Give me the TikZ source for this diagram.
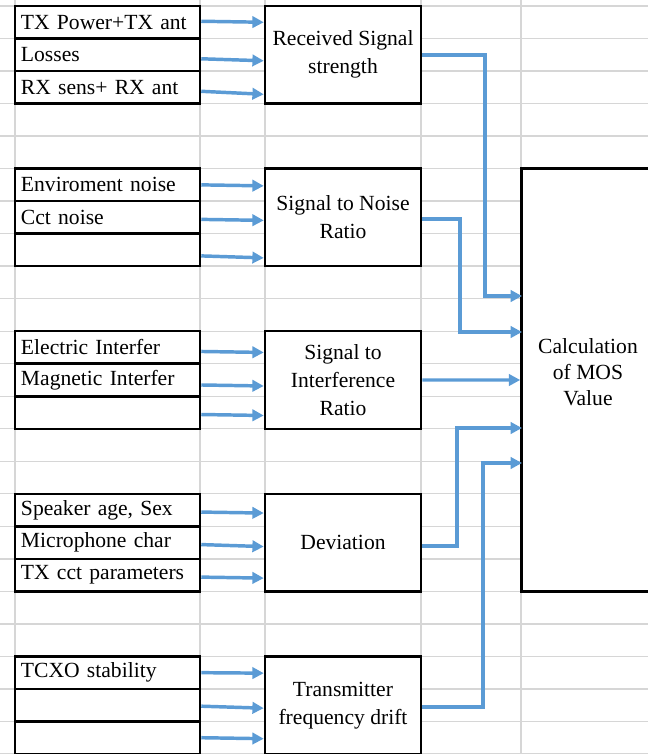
\documentclass[tikz,border=0pt]{standalone}
\usepackage{fontspec}
\setmainfont{Liberation Serif}
\usetikzlibrary{arrows.meta,calc}
\definecolor{gridc}{RGB}{214,214,214}
\definecolor{arrc}{RGB}{91,155,213}
\begin{document}
\begin{tikzpicture}[x=0.75pt,y=-0.75pt,
  font=\fontsize{16.2}{21}\selectfont,
  cell/.style={draw, fill=white, line width=1.9pt, minimum width=138.75pt,
    minimum height=24.39pt, inner xsep=4.5pt, inner ysep=0pt,
    text width=129.75pt, align=left},
  blk/.style={draw, fill=white, line width=1.9pt, minimum width=117pt,
    minimum height=73.17pt, align=center, inner sep=0pt},
  arr/.style={draw=arrc, line width=2.6pt, -{Triangle[length=8.5pt,width=8.5pt]}},
  gridline/.style={draw=gridc, line width=1pt}]
\useasboundingbox (0,0) rectangle (648,754);
\clip (0,0) rectangle (648,754);
% spreadsheet grid
\foreach \k in {0,...,23} \draw[gridline] (0,{6+32.52*\k}) -- (648,{6+32.52*\k});
\foreach \x in {15,200,265,421,521} \draw[gridline] (\x,0) -- (\x,754);

% input cells
\node[cell] (a1) at (107.5,22.26) {TX Power+TX ant};
\node[cell] (a2) at (107.5,54.78) {Losses};
\node[cell] (a3) at (107.5,87.30) {RX sens+ RX ant};
\node[cell] (b1) at (107.5,184.86) {Enviroment noise};
\node[cell] (b2) at (107.5,217.38) {Cct noise};
\node[cell] (b3) at (107.5,249.90) {};
\node[cell] (c1) at (107.5,347.46) {Electric Interfer};
\node[cell] (c2) at (107.5,379.98) {Magnetic Interfer};
\node[cell] (c3) at (107.5,412.50) {};
\node[cell] (d1) at (107.5,510.06) {Speaker age, Sex};
\node[cell] (d2) at (107.5,542.58) {Microphone char};
\node[cell] (d3) at (107.5,575.10) {TX cct parameters};
\node[cell] (e1) at (107.5,672.66) {TCXO stability};
\node[cell] (e2) at (107.5,705.18) {};
\node[cell] (e3) at (107.5,737.70) {};

% intermediate blocks
\node[blk] (rs)  at (343,54.78)  {Received Signal\\strength};
\node[blk] (snr) at (343,217.38) {Signal to Noise\\Ratio};
\node[blk] (sir) at (343,379.98) {Signal to\\Interference\\Ratio};
\node[blk] (dev) at (343,542.58) {Deviation};
\node[blk] (tfd) at (343,705.18) {Transmitter\\frequency drift};

% MOS block
\node[draw, fill=white, line width=1.9pt, minimum width=99.75pt,
  minimum height=317.1pt, inner sep=0pt] (mos) at (588,380) {};
\node[align=center, font=\fontsize{16.2}{19.5}\selectfont] (mostext) at (588,372.5)
  {Calculation\\of MOS\\Value};

% input arrows
\draw[arr] ($(a1.east)+(0,-1)$) -- ($(rs.west |- a1.east)+(0,0)$);
\draw[arr] ($(a2.east)+(0,4)$) -- ($(rs.west |- a2.east)+(0,6)$);
\draw[arr] ($(a3.east)+(0,4)$) -- ($(rs.west |- a3.east)+(0,7)$);
\draw[arr] ($(b1.east)+(0,0)$) -- ($(snr.west |- b1.east)+(0,1)$);
\draw[arr] ($(b2.east)+(0,2)$) -- ($(snr.west |- b2.east)+(0,3)$);
\draw[arr] ($(b3.east)+(0,6)$) -- ($(snr.west |- b3.east)+(0,8)$);
\draw[arr] ($(c1.east)+(0,4)$) -- ($(sir.west |- c1.east)+(0,5)$);
\draw[arr] ($(c2.east)+(0,5)$) -- ($(sir.west |- c2.east)+(0,6)$);
\draw[arr] ($(c3.east)+(0,2)$) -- ($(sir.west |- c3.east)+(0,3)$);
\draw[arr] ($(d1.east)+(0,2)$) -- ($(dev.west |- d1.east)+(0,3)$);
\draw[arr] ($(d2.east)+(0,2)$) -- ($(dev.west |- d2.east)+(0,4)$);
\draw[arr] ($(d3.east)+(0,2)$) -- ($(dev.west |- d3.east)+(0,3)$);
\draw[arr] ($(e1.east)+(0,0)$) -- ($(tfd.west |- e1.east)+(0,0.5)$);
\draw[arr] ($(e2.east)+(0,1)$) -- ($(tfd.west |- e2.east)+(0,3)$);
\draw[arr] ($(e3.east)+(0,0)$) -- ($(tfd.west |- e3.east)+(0,1)$);

% output connectors to MOS
\coordinate (m1) at (522,296);
\coordinate (m2) at (522,332);
\coordinate (m4) at (522,428);
\coordinate (m5) at (522,463);
\draw[arr] (rs.east) -| ($(m1)+(-37,0)$) -- (m1);
\draw[arr] ($(snr.east)+(0,1.5)$) -| ($(m2)+(-62,0)$) -- (m2);
\draw[arr] (sir.east) -- (mos.west);
\draw[arr] ($(dev.east)+(0,3.5)$) -| ($(m4)+(-65,0)$) -- (m4);
\draw[arr] ($(tfd.east)+(0,2)$) -| ($(m5)+(-39,0)$) -- (m5);
\end{tikzpicture}
\end{document}
